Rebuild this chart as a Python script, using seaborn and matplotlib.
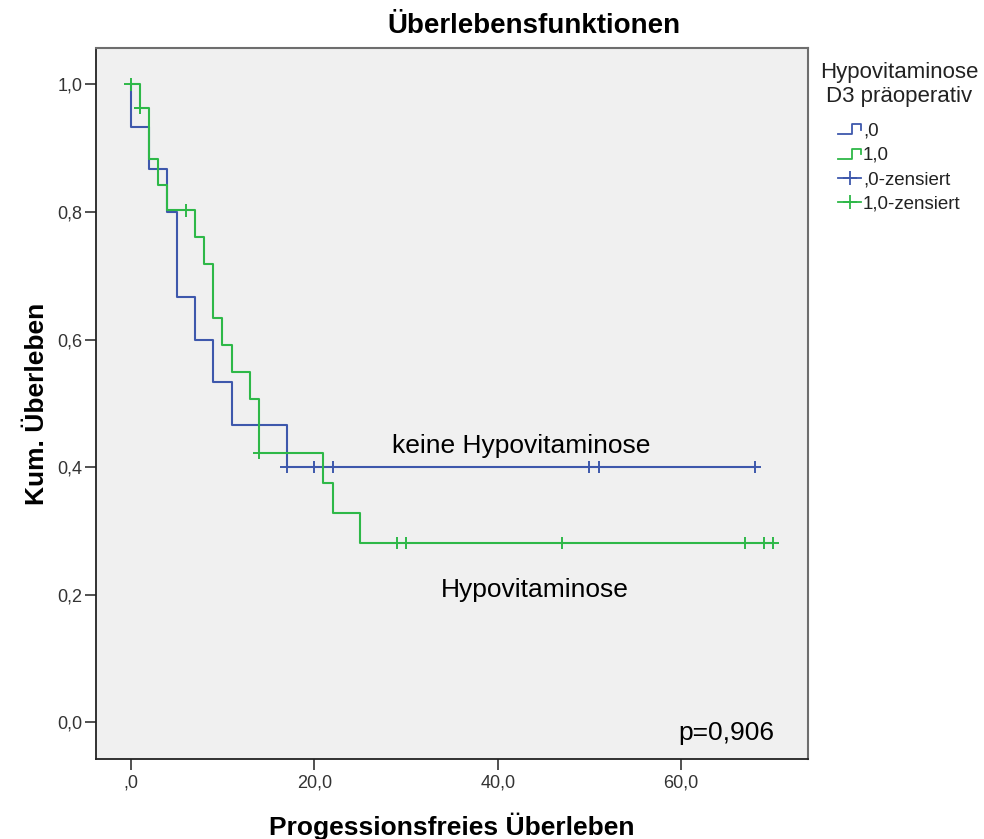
import numpy as np
import pandas as pd
import matplotlib
matplotlib.use("Agg")
import matplotlib.pyplot as plt
from matplotlib.lines import Line2D
from matplotlib.legend_handler import HandlerBase
import seaborn as sns

# ---------------- data ----------------
# group ",0" = keine Hypovitaminose (n=15)
times_0 = [0, 2, 4, 5, 5, 7, 9, 11, 17, 17, 20, 22, 50, 51, 68]
events_0 = [1, 1, 1, 1, 1, 1, 1, 1, 1, 0, 0, 0, 0, 0, 0]
# group "1,0" = Hypovitaminose (n=28)
times_1 = [0, 1, 1, 1, 2, 2, 3, 4, 6, 7, 8, 9, 9, 10, 11, 13, 14, 14, 14,
           21, 22, 25, 29, 30, 47, 67, 69, 70]
events_1 = [0, 1, 0, 0, 1, 1, 1, 1, 0, 1, 1, 1, 1, 1, 1, 1, 1, 1, 0,
            1, 1, 1, 0, 0, 0, 0, 0, 0]

group_labels = [",0", "1,0"]
censor_labels = [",0-zensiert", "1,0-zensiert"]
legend_title = "Hypovitaminose\nD3 präoperativ"
x_ticks = [0, 20, 40, 60]
x_tick_labels = [",0", "20,0", "40,0", "60,0"]
y_ticks = [0.0, 0.2, 0.4, 0.6, 0.8, 1.0]
y_tick_labels = ["0,0", "0,2", "0,4", "0,6", "0,8", "1,0"]
annotations = [("keine Hypovitaminose", 42.6, 0.434),
               ("Hypovitaminose", 44.0, 0.207)]
p_text = "p=0,906"

colors = ["#3E58AC", "#2EB848"]


def km(times, events):
    t = np.asarray(times, float)
    e = np.asarray(events, int)
    xs, ys = [0.0], [1.0]
    s = 1.0
    surv_at = {}
    for ut in np.unique(t):
        n = np.sum(t >= ut)
        d = np.sum((t == ut) & (e == 1))
        if d > 0:
            s *= 1 - d / n
            xs.append(ut)
            ys.append(s)
        surv_at[ut] = s
    xs.append(t.max())
    ys.append(s)
    cx = [ti for ti, ei in zip(t, e) if ei == 0]
    cy = [surv_at[ti] for ti in cx]
    return xs, ys, cx, cy


line_rows, cens_rows = [], []
for lab, tt, ee in [(group_labels[0], times_0, events_0),
                    (group_labels[1], times_1, events_1)]:
    xs, ys, cx, cy = km(tt, ee)
    line_rows += [{"time": a, "surv": b, "group": lab} for a, b in zip(xs, ys)]
    cens_rows += [{"time": a, "surv": b, "group": lab} for a, b in zip(cx, cy)]
lines_df = pd.DataFrame(line_rows)
cens_df = pd.DataFrame(cens_rows)

# ---------------- figure ----------------
plt.rcParams["font.family"] = ["Liberation Sans", "DejaVu Sans"]
fig = plt.figure(figsize=(9.84, 8.39), dpi=100)
fig.patch.set_facecolor("white")
ax = fig.add_axes([0.0971, 0.0948, 0.7244, 0.848])
ax.set_facecolor("#F0F0F0")

pal = dict(zip(group_labels, colors))
sns.lineplot(data=lines_df, x="time", y="surv", hue="group", palette=pal,
             sort=False, estimator=None, drawstyle="steps-post",
             linewidth=1.5, legend=False, ax=ax)
sns.scatterplot(data=cens_df, x="time", y="surv", hue="group", palette=pal,
                marker="+", s=80, linewidth=1.4, legend=False, ax=ax, zorder=3)

ax.set_xlim(-3.83, 73.86)
ax.set_ylim(-0.058, 1.057)
ax.set_xticks(x_ticks)
ax.set_xticklabels(x_tick_labels)
ax.set_yticks(y_ticks)
ax.set_yticklabels(y_tick_labels)
ax.tick_params(axis="both", direction="out", length=8, width=1.2,
               color="#333333", labelsize=13, labelcolor="#333333")
ax.tick_params(axis="y", pad=1.5)
ax.tick_params(axis="x", pad=3)

for side in ["left", "bottom"]:
    ax.spines[side].set_color("#222222")
    ax.spines[side].set_linewidth(1.3)
for side in ["top", "right"]:
    ax.spines[side].set_color("#6e6e6e")
    ax.spines[side].set_linewidth(1.5)

ax.set_xlabel("Progessionsfreies Überleben", fontsize=19, fontweight="bold",
              labelpad=15)
ax.set_ylabel("Kum. Überleben", fontsize=19, fontweight="bold", labelpad=6)

for txt, x, y in annotations:
    ax.text(x, y, txt, fontsize=19, ha="center", va="center", color="black")
ax.text(70.2, -0.017, p_text, fontsize=19, ha="right", va="center", color="black")

fig.text(0.543, 0.969, "Überlebensfunktionen", fontsize=20, fontweight="bold",
         ha="center", va="center")


# ---------------- legend ----------------
class StepHandler(HandlerBase):
    def create_artists(self, legend, orig_handle, xdescent, ydescent, width,
                       height, fontsize, trans):
        x0, y0 = -xdescent, -ydescent
        xs = [x0, x0 + width * 0.62, x0 + width * 0.62, x0 + width, x0 + width]
        ys = [y0 + height * 0.1, y0 + height * 0.1, y0 + height * 0.85,
              y0 + height * 0.85, y0 + height * 0.45]
        ln = Line2D(xs, ys, color=orig_handle.get_color(), lw=1.3)
        ln.set_transform(trans)
        return [ln]


class CensHandler(HandlerBase):
    def create_artists(self, legend, orig_handle, xdescent, ydescent, width,
                       height, fontsize, trans):
        x0, y0 = -xdescent, -ydescent
        ym = y0 + height * 0.5
        ln = Line2D([x0, x0 + width], [ym, ym], color=orig_handle.get_color(),
                    lw=1.3)
        mk = Line2D([x0 + width / 2], [ym], marker="+", markersize=10,
                    markeredgewidth=1.3, color=orig_handle.get_color(),
                    linestyle="none")
        ln.set_transform(trans)
        mk.set_transform(trans)
        return [ln, mk]


h_step = [Line2D([], [], color=c) for c in colors]
h_cens = [Line2D([], [], color=c) for c in colors]
handler_map = {h: StepHandler() for h in h_step}
handler_map.update({h: CensHandler() for h in h_cens})
leg = fig.legend(h_step + h_cens, group_labels + censor_labels,
                 handler_map=handler_map, loc="upper left",
                 bbox_to_anchor=(820 / 984, 1 - 62 / 839), frameon=False,
                 fontsize=13.5, title=legend_title, title_fontsize=16,
                 handlelength=1.25, handletextpad=0.08, labelspacing=0.38,
                 borderpad=0, borderaxespad=0)
leg._legend_box.sep = 11
leg.get_title().set_multialignment("center")
leg.get_title().set_color("#222222")
for t in leg.get_texts():
    t.set_color("#222222")

fig.savefig("out.png", dpi=100)
